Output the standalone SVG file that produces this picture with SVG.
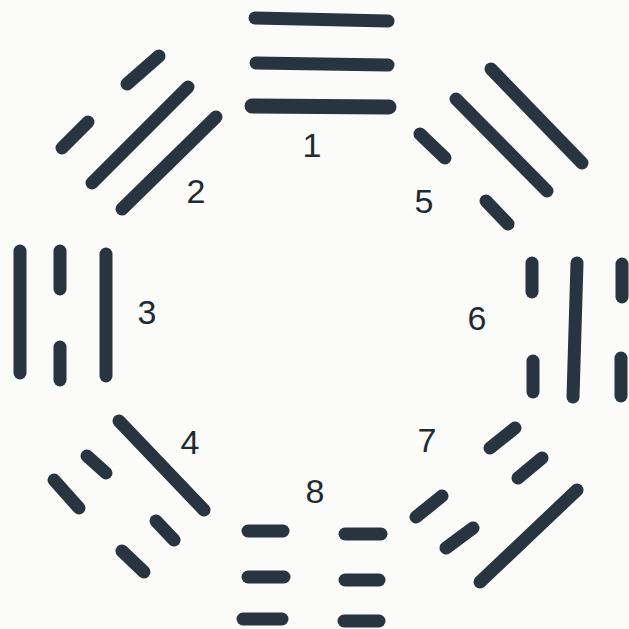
<svg xmlns="http://www.w3.org/2000/svg" width="629" height="629" viewBox="0 0 629 629">
<style>
.ln{stroke:#28343f;stroke-width:13;stroke-linecap:round;fill:none}
.lb{font-family:"Liberation Sans","DejaVu Sans",sans-serif;font-size:34px;fill:#1f2a33;text-anchor:middle}
</style>
<rect width="629" height="629" fill="#fbfbfa"/>
<g id="trigram1">
<line class="ln" x1="255" y1="18" x2="388" y2="21"/>
<line class="ln" x1="256" y1="63" x2="388" y2="65"/>
<line class="ln" x1="252" y1="106" x2="389" y2="107" style="stroke-width:15"/>
<text class="lb" x="312" y="157">1</text>
</g>
<g id="trigram2">
<line class="ln" x1="159" y1="56" x2="127" y2="84"/>
<line class="ln" x1="88" y1="122" x2="62" y2="148"/>
<line class="ln" x1="188" y1="87" x2="92" y2="183"/>
<line class="ln" x1="216" y1="117" x2="122" y2="209"/>
<text class="lb" x="196" y="203">2</text>
</g>
<g id="trigram3">
<line class="ln" x1="20" y1="251" x2="20" y2="373"/>
<line class="ln" x1="60" y1="251" x2="60" y2="289"/>
<line class="ln" x1="60" y1="347" x2="60" y2="380"/>
<line class="ln" x1="106" y1="254" x2="106" y2="376"/>
<text class="lb" x="147" y="324">3</text>
</g>
<g id="trigram4">
<line class="ln" x1="119" y1="421" x2="204" y2="510"/>
<line class="ln" x1="87" y1="456" x2="106" y2="473"/>
<line class="ln" x1="156" y1="521" x2="174" y2="540"/>
<line class="ln" x1="54" y1="480" x2="79" y2="508"/>
<line class="ln" x1="122" y1="551" x2="144" y2="572"/>
<text class="lb" x="190" y="454">4</text>
</g>
<g id="trigram5">
<line class="ln" x1="420" y1="134" x2="445" y2="158"/>
<line class="ln" x1="486" y1="201" x2="508" y2="224"/>
<line class="ln" x1="456" y1="99" x2="547" y2="191"/>
<line class="ln" x1="491" y1="69" x2="582" y2="163"/>
<text class="lb" x="424" y="213">5</text>
</g>
<g id="trigram6">
<line class="ln" x1="532" y1="263" x2="532" y2="292"/>
<line class="ln" x1="533" y1="361" x2="533" y2="392"/>
<line class="ln" x1="577" y1="263" x2="573" y2="397"/>
<line class="ln" x1="622" y1="264" x2="622" y2="297"/>
<line class="ln" x1="621" y1="358" x2="621" y2="396"/>
<text class="lb" x="477" y="330">6</text>
</g>
<g id="trigram7">
<line class="ln" x1="577" y1="490" x2="480" y2="582"/>
<line class="ln" x1="542" y1="458" x2="518" y2="478"/>
<line class="ln" x1="473" y1="528" x2="446" y2="548"/>
<line class="ln" x1="515" y1="428" x2="490" y2="448"/>
<line class="ln" x1="442" y1="496" x2="416" y2="517"/>
<text class="lb" x="427" y="452">7</text>
</g>
<g id="trigram8">
<line class="ln" x1="248" y1="531" x2="283" y2="531"/>
<line class="ln" x1="248" y1="577" x2="284" y2="577"/>
<line class="ln" x1="243" y1="619" x2="282" y2="619"/>
<line class="ln" x1="345" y1="534" x2="381" y2="534"/>
<line class="ln" x1="345" y1="580" x2="379" y2="580"/>
<line class="ln" x1="344" y1="621" x2="379" y2="621"/>
<text class="lb" x="315" y="503">8</text>
</g>
</svg>
